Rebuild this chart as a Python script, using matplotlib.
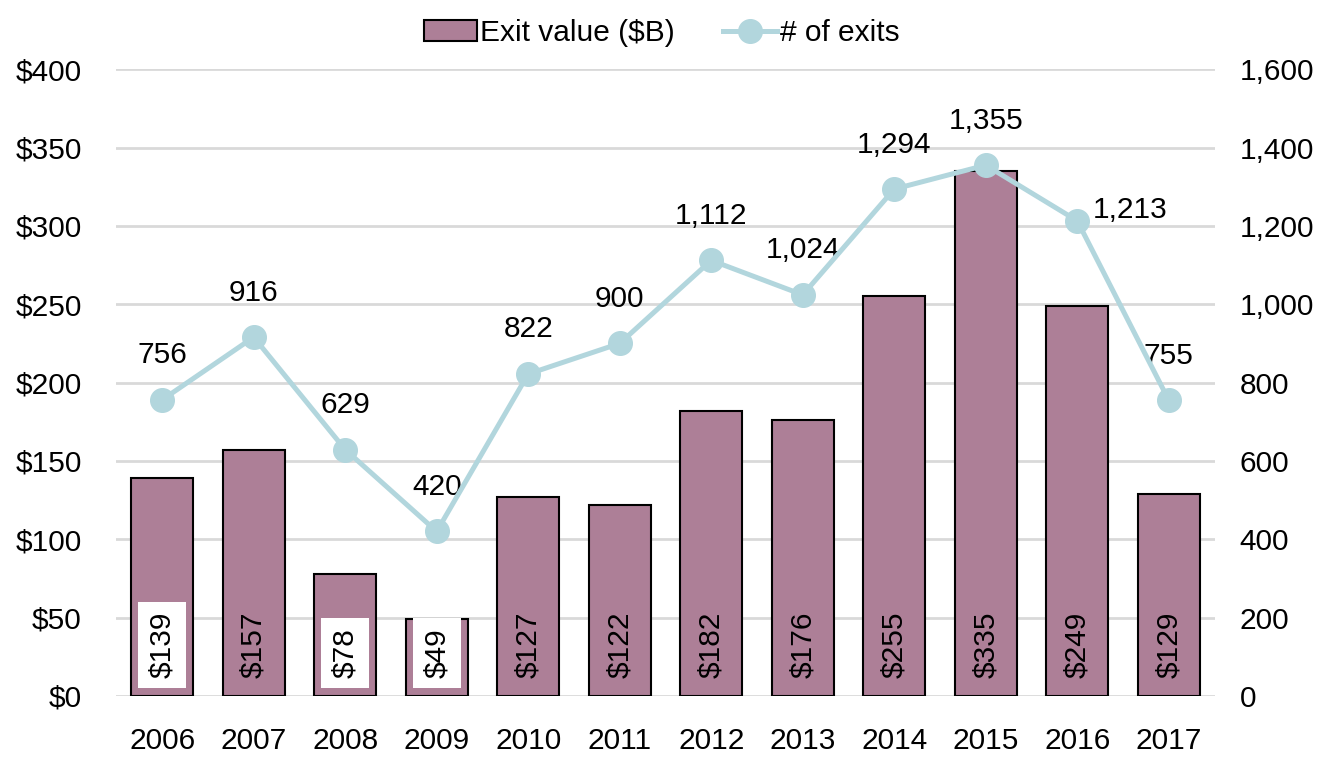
import matplotlib.pyplot as plt
from matplotlib.ticker import FuncFormatter

years = ['2006', '2007', '2008', '2009', '2010', '2011', '2012', '2013', '2014', '2015', '2016', '2017']
exitValue = [139, 157, 78, 49, 127, 122, 182, 176, 255, 335, 249, 129]
numExits = [756, 916, 629, 420, 822, 900, 1112, 1024, 1294, 1355, 1213, 755]
boxedYears = ['2006', '2008', '2009']

barColor = '#AD7F97'
lineColor = '#B2D6DD'

plt.rcParams['font.family'] = ['Liberation Sans', 'DejaVu Sans']
plt.rcParams['font.size'] = 21.5

fig = plt.figure(figsize=(13.23, 7.57), dpi=100)
ax = fig.add_axes([0.088, 0.0806, 0.830, 0.828])
ax2 = ax.twinx()

x = list(range(len(years)))

# Barras (eixo esquerdo)
ax.bar(x, exitValue, width=0.68, color=barColor, edgecolor='black', linewidth=1.5,
       label='Exit value ($B)', zorder=2)
ax.set_ylim(0, 400)
ax.set_xlim(-0.5, len(years) - 0.5)
ax.set_yticks(range(0, 401, 50))
ax.yaxis.set_major_formatter(FuncFormatter(lambda v, p: f'${int(v)}'))
ax.grid(axis='y', color='#D9D9D9', linewidth=2, zorder=0)
ax.set_axisbelow(True)
ax.set_xticks(x)
ax.set_xticklabels(years)
ax.tick_params(axis='both', length=0)
ax.tick_params(axis='x', pad=22)
ax.tick_params(axis='y', pad=25)

for i, v in enumerate(exitValue):
    if years[i] in boxedYears:
        box = dict(facecolor='white', edgecolor='none', pad=7)
    else:
        box = None
    ax.annotate(f'${v}', xy=(i, 0), xytext=(0, 13), textcoords='offset points',
                rotation=90, ha='center', va='bottom', bbox=box, zorder=3)

# Linha (eixo direito)
ax2.plot(x, numExits, color=lineColor, linewidth=3.6, marker='o', markersize=17,
         label='# of exits', zorder=4)
ax2.set_ylim(0, 1600)
ax2.set_yticks(range(0, 1601, 200))
ax2.yaxis.set_major_formatter(FuncFormatter(lambda v, p: f'{int(v):,}'))
ax2.tick_params(axis='y', length=0, pad=18)

for i, n in enumerate(numExits):
    if years[i] == '2016':
        ax2.annotate(f'{n:,}', xy=(i, n), xytext=(11, -2), textcoords='offset points',
                     ha='left', va='bottom')
    else:
        ax2.annotate(f'{n:,}', xy=(i, n), xytext=(0, 22), textcoords='offset points',
                     ha='center', va='bottom')

for a in (ax, ax2):
    for s in a.spines.values():
        s.set_visible(False)

h1, l1 = ax.get_legend_handles_labels()
h2, l2 = ax2.get_legend_handles_labels()
fig.legend(h1 + h2, l1 + l2, loc='upper center', bbox_to_anchor=(0.5, 1.01), ncol=2,
           frameon=False, handlelength=1.8, handletextpad=0.1, columnspacing=1.6)

fig.savefig('out.png', dpi=100)
